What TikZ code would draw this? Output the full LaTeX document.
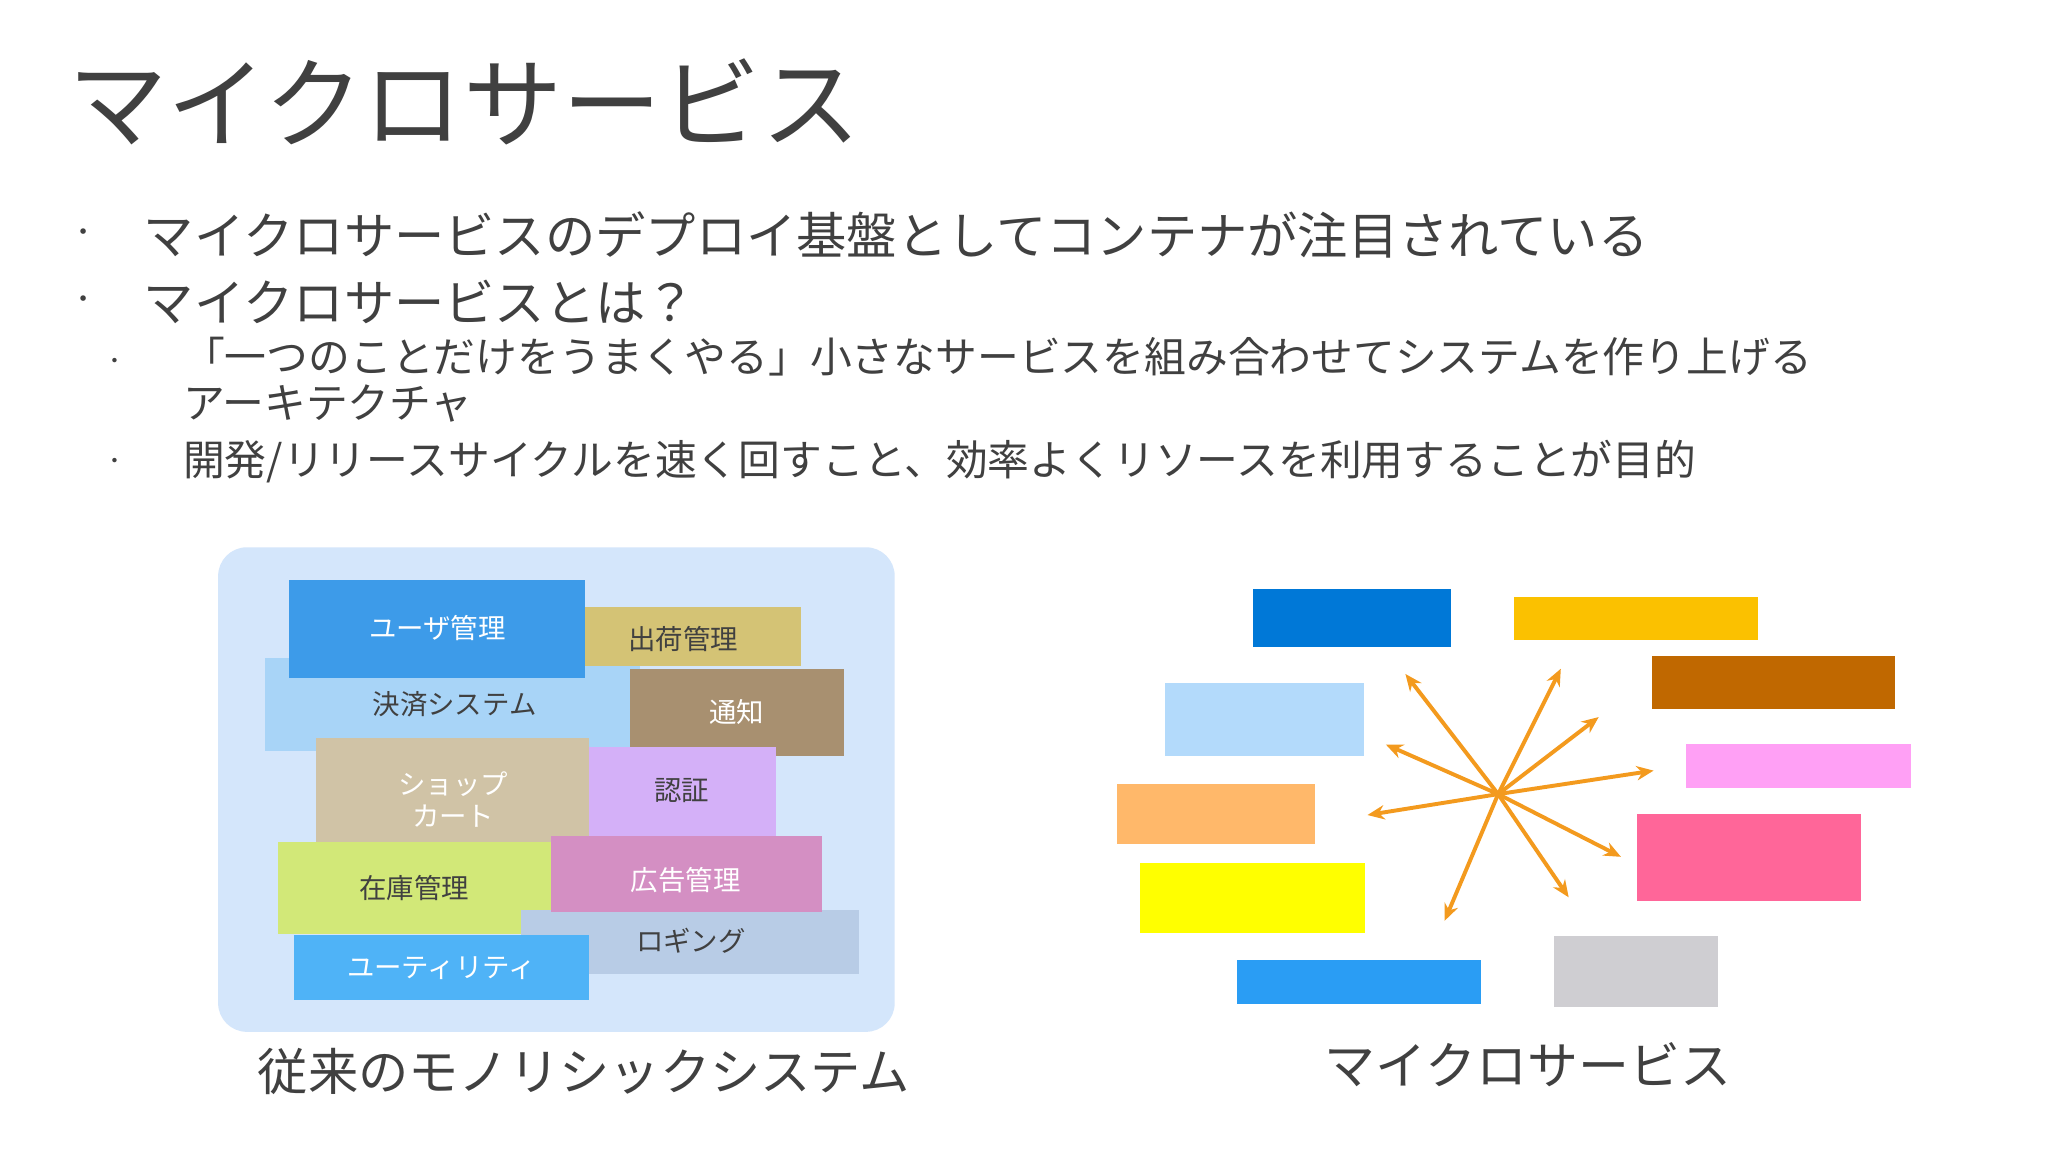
\documentclass[tikz,border=0pt]{standalone}
\usepackage{fontspec}
\setmainfont{Noto Sans CJK JP}
\usetikzlibrary{arrows.meta}
\definecolor{tc}{HTML}{404040}
\definecolor{arr}{HTML}{F39A1E}
\tikzset{
 lbl/.style={font=\fontsize{21}{23}\selectfont},
 ar/.style={arr,line width=3pt,-{Stealth[length=13pt,width=11pt]}},
 txt/.style={anchor=west,text=tc,inner sep=0pt},
}
\begin{document}
\begin{tikzpicture}[x=1pt,y=-1pt]
\useasboundingbox (0,0) rectangle (1568,882);
\fill[white] (0,0) rectangle (1568,882);
\node[txt,font=\fontsize{76}{80}\selectfont] (title) at (52,78) {マイクロサービス};
\node[txt,font=\fontsize{38.5}{40}\selectfont] (b1) at (110,180) {マイクロサービスのデプロイ基盤としてコンテナが注目されている};
\node[txt,font=\fontsize{38.5}{40}\selectfont] (b2) at (110,231) {マイクロサービスとは？};
\node[txt,font=\fontsize{20}{22}\selectfont] (d1) at (54,180) {・};
\node[txt,font=\fontsize{20}{22}\selectfont] (d2) at (54,231) {・};
\node[txt,font=\fontsize{32}{35}\selectfont,align=left,anchor=north west] (s1) at (140,258) {「一つのことだけをうまくやる」小さなサービスを組み合わせてシステムを作り上げる\\アーキテクチャ};
\node[txt,font=\fontsize{32}{34}\selectfont] (s2) at (140,353) {開発/リリースサイクルを速く回すこと、効率よくリソースを利用することが目的};
\node[txt,font=\fontsize{16}{18}\selectfont] (d3) at (80,278) {・};
\node[txt,font=\fontsize{16}{18}\selectfont] (d4) at (80,355) {・};
% left monolith
\fill[fill={rgb,255:red,212;green,230;blue,251},rounded corners=22pt] (167,419) rectangle (685,790);
\fill[fill={rgb,255:red,168;green,212;blue,247}] (203,504) rectangle (490,575);
\node[lbl,text=tc] (kessai) at (348,539) {決済システム};
\fill[fill={rgb,255:red,61;green,155;blue,233}] (221,444) rectangle (448,519);
\node[lbl,text=white] (user) at (335,481) {ユーザ管理};
\fill[fill={rgb,255:red,212;green,195;blue,117}] (448,465) rectangle (613,510);
\node[lbl,text=tc] (shukka) at (523,489) {出荷管理};
\fill[fill={rgb,255:red,168;green,144;blue,112}] (482,512) rectangle (646,579);
\node[lbl,text=white] (tsuchi) at (564,545) {通知};
\fill[fill={rgb,255:red,208;green,195;blue,166}] (242,565) rectangle (451,645);
\node[lbl,text=white,align=center,font=\fontsize{21}{24}\selectfont] (shop) at (347,612) {ショップ\\カート};
\fill[fill={rgb,255:red,212;green,176;blue,248}] (451,572) rectangle (594,640);
\node[lbl,text=tc] (ninsho) at (522,605) {認証};
\fill[fill={rgb,255:red,210;green,232;blue,120}] (213,645) rectangle (422,715);
\node[lbl,text=tc] (zaiko) at (317,680) {在庫管理};
\fill[fill={rgb,255:red,184;green,204;blue,230}] (399,697) rectangle (658,746);
\node[lbl,text=tc] (log) at (529,720) {ロギング};
\fill[fill={rgb,255:red,212;green,143;blue,195}] (422,640) rectangle (629,698);
\node[lbl,text=white] (kokoku) at (525,674) {広告管理};
\fill[fill={rgb,255:red,79;green,179;blue,247}] (225,716) rectangle (451,766);
\node[lbl,text=white] (util) at (338,741) {ユーティリティ};
\node[font=\fontsize{38.5}{40}\selectfont,text=tc] (mono) at (447,820) {従来のモノリシックシステム};
% right micro
\fill[fill={rgb,255:red,0;green,120;blue,215}] (959,451) rectangle (1111,495);
\fill[fill={rgb,255:red,251;green,193;blue,0}] (1159,457) rectangle (1346,490);
\fill[fill={rgb,255:red,192;green,104;blue,0}] (1265,502) rectangle (1451,543);
\fill[fill={rgb,255:red,179;green,218;blue,251}] (892,523) rectangle (1044,579);
\fill[fill={rgb,255:red,255;green,160;blue,245}] (1291,570) rectangle (1463,603);
\fill[fill={rgb,255:red,255;green,184;blue,106}] (855,600) rectangle (1007,646);
\fill[fill={rgb,255:red,255;green,102;blue,153}] (1253,623) rectangle (1425,690);
\fill[fill={rgb,255:red,255;green,255;blue,0}] (873,661) rectangle (1045,714);
\fill[fill={rgb,255:red,42;green,157;blue,244}] (947,735) rectangle (1134,769);
\fill[fill={rgb,255:red,207;green,206;blue,210}] (1190,717) rectangle (1315,771);
\coordinate (c) at (1147,608);
\coordinate (e1) at (1076,516); \coordinate (e2) at (1195,512);
\coordinate (e3) at (1224,549); \coordinate (e4) at (1266,590);
\coordinate (e5) at (1241,656); \coordinate (e6) at (1201,687);
\coordinate (e7) at (1106,705); \coordinate (e8) at (1047,624);
\coordinate (e9) at (1061,570);
\foreach \e in {e1,e2,e3,e4,e5,e6,e7,e8,e9} \draw[ar] (c) -- (\e);
\node[font=\fontsize{39}{40}\selectfont,text=tc] (micro) at (1170,815) {マイクロサービス};
\end{tikzpicture}
\end{document}
